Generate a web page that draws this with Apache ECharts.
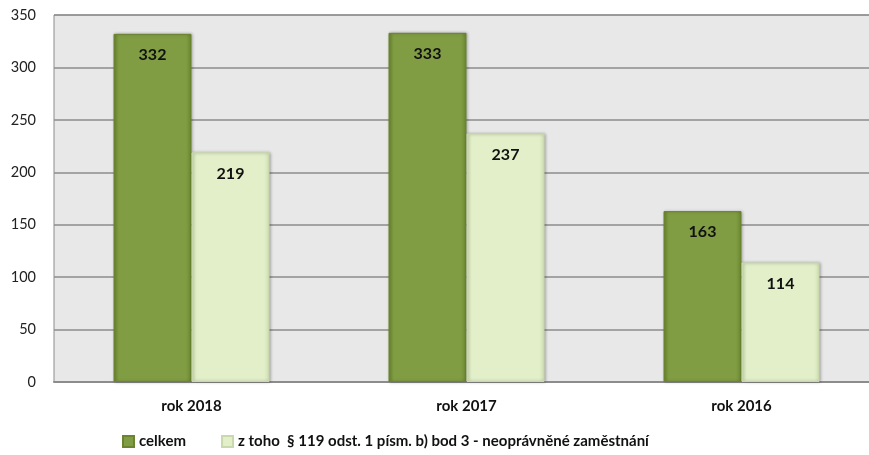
<!DOCTYPE html>
<html>
<head>
<meta charset="utf-8">
<script src="https://cdn.jsdelivr.net/npm/echarts@6/dist/echarts.min.js"></script>
<style>html,body{margin:0;padding:0;background:#fff;width:869px;height:455px;overflow:hidden}#c{width:879px;height:455px}</style>
</head>
<body>
<div id="c"></div>
<script>
var categories = ['rok 2018', 'rok 2017', 'rok 2016'];
var seriesNames = ['celkem', 'z toho  § 119 odst. 1 písm. b) bod 3 - neoprávněné zaměstnání'];
var celkem = [332, 333, 163];
var ztoho = [219, 237, 114];
var yTicks = [0, 50, 100, 150, 200, 250, 300, 350];

var FONT = 'Lato, "Open Sans", sans-serif';
var chart = echarts.init(document.getElementById('c'), null, {renderer: 'canvas'});

function hgrad(edge, mid) {
  return new echarts.graphic.LinearGradient(0, 0, 1, 0, [
    {offset: 0, color: edge}, {offset: 0.07, color: mid},
    {offset: 0.93, color: mid}, {offset: 1, color: edge}
  ]);
}

var labelStyle = {
  show: true, position: 'insideTop', distance: 13,
  fontFamily: FONT, fontWeight: 'bold', fontSize: 16, color: '#111'
};

chart.setOption({
  animation: false,
  backgroundColor: '#fff',
  grid: {
    left: 54, right: 0, top: 15, bottom: 73,
    show: true, backgroundColor: '#e8e8e8', borderColor: '#8c8c8c', borderWidth: 1
  },
  legend: {
    left: 117, bottom: 1, itemWidth: 11, itemHeight: 11, itemGap: 35,
    icon: 'rect',
    textStyle: {fontFamily: FONT, fontWeight: 'bold', fontSize: 15, color: '#111'},
    data: seriesNames
  },
  xAxis: {
    type: 'category', data: categories,
    axisLine: {show: true, lineStyle: {color: '#8c8c8c', width: 2}},
    axisTick: {show: false},
    axisLabel: {margin: 17, fontFamily: FONT, fontWeight: 'bold', fontSize: 15, color: '#111'}
  },
  yAxis: {
    type: 'value', min: yTicks[0], max: yTicks[yTicks.length - 1], interval: 50,
    axisLine: {show: false}, axisTick: {show: false},
    splitLine: {lineStyle: {color: '#8c8c8c', width: 1.5}},
    axisLabel: {margin: 18, fontFamily: FONT, fontSize: 14.5, color: '#222'}
  },
  series: [
    {
      name: seriesNames[0], type: 'bar', data: celkem,
      barWidth: 78, barGap: '0%',
      itemStyle: {
        color: hgrad('#6c8731', '#809d43'),
        borderColor: '#6a8430', borderWidth: 1,
        shadowColor: 'rgba(0,0,0,0.25)', shadowBlur: 3, shadowOffsetX: 1, shadowOffsetY: 0
      },
      label: labelStyle
    },
    {
      name: seriesNames[1], type: 'bar', data: ztoho,
      barWidth: 78,
      itemStyle: {
        color: hgrad('#d2e2b4', '#e2efc9'),
        borderColor: '#c9d9ad', borderWidth: 1,
        shadowColor: 'rgba(0,0,0,0.3)', shadowBlur: 3, shadowOffsetX: 1, shadowOffsetY: 0
      },
      label: labelStyle
    }
  ]
});
</script>
</body>
</html>
